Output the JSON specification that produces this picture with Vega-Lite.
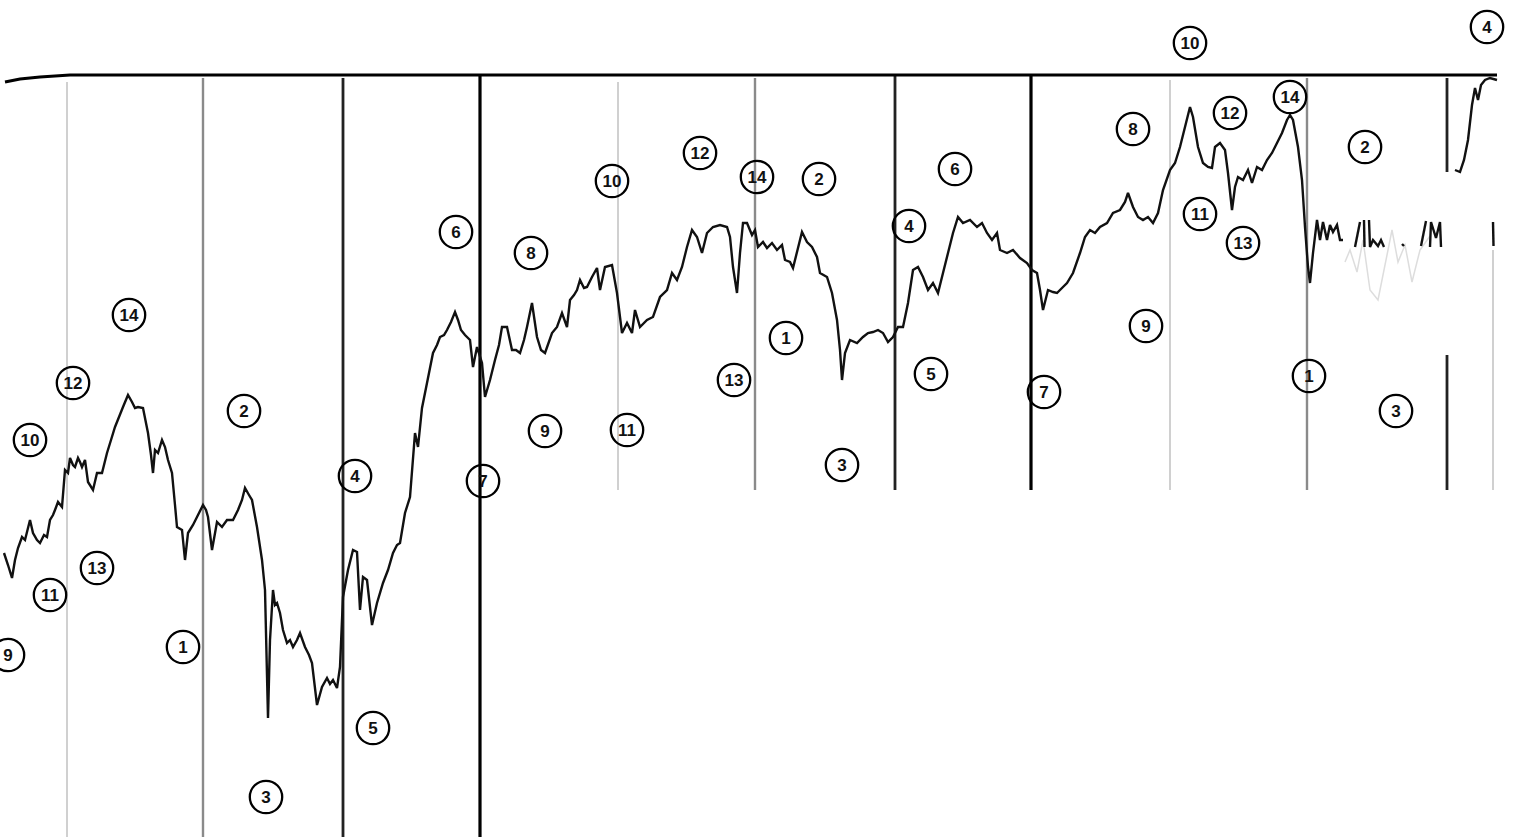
{
"$schema": "https://vega.github.io/schema/vega-lite/v6.json",
"width": 1524, "height": 837,
"autosize": {"type": "none"},
"padding": 0,
"background": "white",
"config": {"view": {"stroke": null}},
"datasets": {
"top": [{"x":5,"y":82},{"x":20,"y":79},{"x":40,"y":77},{"x":70,"y":75},{"x":1497,"y":75}],
"rules": [
{"x":67,"y":82,"y2":837,"kind":"faint"},
{"x":203,"y":78,"y2":837,"kind":"light"},
{"x":343,"y":78,"y2":837,"kind":"medium"},
{"x":480,"y":75,"y2":837,"kind":"heavy"},
{"x":618,"y":82,"y2":490,"kind":"faint"},
{"x":755,"y":78,"y2":490,"kind":"light"},
{"x":895,"y":75,"y2":490,"kind":"medium"},
{"x":1031,"y":75,"y2":490,"kind":"heavy"},
{"x":1170,"y":80,"y2":490,"kind":"faint"},
{"x":1307,"y":78,"y2":490,"kind":"light"},
{"x":1447,"y":78,"y2":172,"kind":"medium"},
{"x":1447,"y":355,"y2":490,"kind":"medium"},
{"x":1493,"y":250,"y2":490,"kind":"faint"}
],
"ghost": [{"x":1345,"y":262},{"x":1350,"y":250},{"x":1357,"y":272},{"x":1363,"y":240},{"x":1370,"y":290},{"x":1378,"y":300},{"x":1385,"y":265},{"x":1392,"y":230},{"x":1398,"y":262},{"x":1405,"y":245},{"x":1412,"y":282},{"x":1420,"y":250},{"x":1430,"y":236}],
"price": [
{"seg":1,"x":4,"y":553},{"seg":1,"x":8,"y":565},{"seg":1,"x":12,"y":578},{"seg":1,"x":15,"y":560},{"seg":1,"x":18,"y":548},{"seg":1,"x":22,"y":537},{"seg":1,"x":25,"y":540},{"seg":1,"x":28,"y":528},{"seg":1,"x":30,"y":520},{"seg":1,"x":33,"y":533},{"seg":1,"x":37,"y":540},{"seg":1,"x":40,"y":543},{"seg":1,"x":44,"y":535},{"seg":1,"x":47,"y":537},{"seg":1,"x":50,"y":520},{"seg":1,"x":53,"y":515},{"seg":1,"x":55,"y":510},{"seg":1,"x":58,"y":502},{"seg":1,"x":62,"y":507},{"seg":1,"x":65,"y":470},{"seg":1,"x":68,"y":473},{"seg":1,"x":70,"y":458},{"seg":1,"x":73,"y":465},{"seg":1,"x":75,"y":467},{"seg":1,"x":78,"y":458},{"seg":1,"x":80,"y":462},{"seg":1,"x":82,"y":467},{"seg":1,"x":85,"y":460},{"seg":1,"x":88,"y":482},{"seg":1,"x":93,"y":490},{"seg":1,"x":97,"y":473},{"seg":1,"x":102,"y":473},{"seg":1,"x":107,"y":453},{"seg":1,"x":111,"y":440},{"seg":1,"x":115,"y":427},{"seg":1,"x":119,"y":417},{"seg":1,"x":123,"y":407},{"seg":1,"x":128,"y":395},{"seg":1,"x":132,"y":402},{"seg":1,"x":135,"y":408},{"seg":1,"x":138,"y":407},{"seg":1,"x":143,"y":408},{"seg":1,"x":148,"y":433},{"seg":1,"x":151,"y":455},{"seg":1,"x":153,"y":473},{"seg":1,"x":155,"y":450},{"seg":1,"x":158,"y":453},{"seg":1,"x":162,"y":440},{"seg":1,"x":165,"y":447},{"seg":1,"x":168,"y":460},{"seg":1,"x":172,"y":473},{"seg":1,"x":175,"y":505},{"seg":1,"x":177,"y":527},{"seg":1,"x":182,"y":530},{"seg":1,"x":185,"y":560},{"seg":1,"x":188,"y":533},{"seg":1,"x":193,"y":525},{"seg":1,"x":197,"y":517},{"seg":1,"x":203,"y":505},{"seg":1,"x":206,"y":510},{"seg":1,"x":208,"y":517},{"seg":1,"x":212,"y":550},{"seg":1,"x":217,"y":522},{"seg":1,"x":222,"y":527},{"seg":1,"x":227,"y":520},{"seg":1,"x":233,"y":520},{"seg":1,"x":238,"y":510},{"seg":1,"x":242,"y":500},{"seg":1,"x":245,"y":488},{"seg":1,"x":249,"y":495},{"seg":1,"x":252,"y":500},{"seg":1,"x":257,"y":527},{"seg":1,"x":262,"y":560},{"seg":1,"x":265,"y":590},{"seg":1,"x":268,"y":718},{"seg":1,"x":270,"y":640},{"seg":1,"x":273,"y":590},{"seg":1,"x":275,"y":605},{"seg":1,"x":277,"y":603},{"seg":1,"x":280,"y":613},{"seg":1,"x":283,"y":630},{"seg":1,"x":287,"y":643},{"seg":1,"x":290,"y":640},{"seg":1,"x":293,"y":647},{"seg":1,"x":297,"y":640},{"seg":1,"x":300,"y":633},{"seg":1,"x":305,"y":647},{"seg":1,"x":309,"y":655},{"seg":1,"x":312,"y":663},{"seg":1,"x":317,"y":705},{"seg":1,"x":322,"y":687},{"seg":1,"x":327,"y":678},{"seg":1,"x":330,"y":684},{"seg":1,"x":333,"y":680},{"seg":1,"x":337,"y":688},{"seg":1,"x":340,"y":667},{"seg":1,"x":343,"y":597},{"seg":1,"x":348,"y":570},{"seg":1,"x":353,"y":550},{"seg":1,"x":357,"y":552},{"seg":1,"x":360,"y":610},{"seg":1,"x":363,"y":577},{"seg":1,"x":367,"y":580},{"seg":1,"x":372,"y":625},{"seg":1,"x":377,"y":603},{"seg":1,"x":383,"y":583},{"seg":1,"x":388,"y":570},{"seg":1,"x":393,"y":553},{"seg":1,"x":397,"y":545},{"seg":1,"x":400,"y":543},{"seg":1,"x":405,"y":513},{"seg":1,"x":410,"y":497},{"seg":1,"x":415,"y":433},{"seg":1,"x":418,"y":447},{"seg":1,"x":422,"y":408},{"seg":1,"x":427,"y":383},{"seg":1,"x":433,"y":353},{"seg":1,"x":437,"y":345},{"seg":1,"x":440,"y":337},{"seg":1,"x":444,"y":335},{"seg":1,"x":447,"y":330},{"seg":1,"x":451,"y":322},{"seg":1,"x":455,"y":312},{"seg":1,"x":458,"y":320},{"seg":1,"x":461,"y":330},{"seg":1,"x":465,"y":335},{"seg":1,"x":470,"y":340},{"seg":1,"x":473,"y":367},{"seg":1,"x":477,"y":347},{"seg":1,"x":482,"y":363},{"seg":1,"x":485,"y":397},{"seg":1,"x":490,"y":380},{"seg":1,"x":495,"y":360},{"seg":1,"x":499,"y":345},{"seg":1,"x":502,"y":327},{"seg":1,"x":507,"y":327},{"seg":1,"x":512,"y":350},{"seg":1,"x":516,"y":350},{"seg":1,"x":520,"y":353},{"seg":1,"x":524,"y":340},{"seg":1,"x":527,"y":327},{"seg":1,"x":532,"y":303},{"seg":1,"x":537,"y":337},{"seg":1,"x":541,"y":350},{"seg":1,"x":545,"y":353},{"seg":1,"x":552,"y":333},{"seg":1,"x":557,"y":327},{"seg":1,"x":562,"y":313},{"seg":1,"x":567,"y":327},{"seg":1,"x":570,"y":300},{"seg":1,"x":574,"y":295},{"seg":1,"x":577,"y":290},{"seg":1,"x":580,"y":280},{"seg":1,"x":584,"y":288},{"seg":1,"x":587,"y":287},{"seg":1,"x":592,"y":277},{"seg":1,"x":597,"y":268},{"seg":1,"x":600,"y":290},{"seg":1,"x":605,"y":267},{"seg":1,"x":612,"y":265},{"seg":1,"x":617,"y":293},{"seg":1,"x":622,"y":333},{"seg":1,"x":627,"y":323},{"seg":1,"x":632,"y":333},{"seg":1,"x":635,"y":310},{"seg":1,"x":640,"y":327},{"seg":1,"x":647,"y":320},{"seg":1,"x":653,"y":317},{"seg":1,"x":660,"y":297},{"seg":1,"x":667,"y":290},{"seg":1,"x":672,"y":273},{"seg":1,"x":677,"y":280},{"seg":1,"x":682,"y":267},{"seg":1,"x":687,"y":247},{"seg":1,"x":692,"y":230},{"seg":1,"x":697,"y":237},{"seg":1,"x":702,"y":253},{"seg":1,"x":707,"y":233},{"seg":1,"x":713,"y":227},{"seg":1,"x":720,"y":225},{"seg":1,"x":727,"y":227},{"seg":1,"x":730,"y":237},{"seg":1,"x":733,"y":267},{"seg":1,"x":737,"y":293},{"seg":1,"x":740,"y":253},{"seg":1,"x":743,"y":223},{"seg":1,"x":747,"y":223},{"seg":1,"x":752,"y":235},{"seg":1,"x":755,"y":230},{"seg":1,"x":758,"y":247},{"seg":1,"x":763,"y":242},{"seg":1,"x":767,"y":248},{"seg":1,"x":772,"y":243},{"seg":1,"x":777,"y":250},{"seg":1,"x":782,"y":245},{"seg":1,"x":785,"y":260},{"seg":1,"x":790,"y":262},{"seg":1,"x":793,"y":268},{"seg":1,"x":798,"y":248},{"seg":1,"x":802,"y":232},{"seg":1,"x":807,"y":242},{"seg":1,"x":812,"y":247},{"seg":1,"x":817,"y":257},{"seg":1,"x":820,"y":273},{"seg":1,"x":827,"y":277},{"seg":1,"x":832,"y":293},{"seg":1,"x":837,"y":320},{"seg":1,"x":840,"y":350},{"seg":1,"x":842,"y":380},{"seg":1,"x":845,"y":353},{"seg":1,"x":850,"y":340},{"seg":1,"x":857,"y":343},{"seg":1,"x":863,"y":337},{"seg":1,"x":868,"y":333},{"seg":1,"x":873,"y":332},{"seg":1,"x":878,"y":330},{"seg":1,"x":883,"y":333},{"seg":1,"x":888,"y":342},{"seg":1,"x":893,"y":337},{"seg":1,"x":898,"y":327},{"seg":1,"x":903,"y":327},{"seg":1,"x":908,"y":303},{"seg":1,"x":913,"y":270},{"seg":1,"x":918,"y":267},{"seg":1,"x":923,"y":277},{"seg":1,"x":928,"y":290},{"seg":1,"x":933,"y":283},{"seg":1,"x":938,"y":293},{"seg":1,"x":943,"y":273},{"seg":1,"x":948,"y":253},{"seg":1,"x":953,"y":233},{"seg":1,"x":958,"y":217},{"seg":1,"x":963,"y":223},{"seg":1,"x":970,"y":220},{"seg":1,"x":977,"y":227},{"seg":1,"x":982,"y":223},{"seg":1,"x":987,"y":233},{"seg":1,"x":992,"y":240},{"seg":1,"x":997,"y":233},{"seg":1,"x":1000,"y":250},{"seg":1,"x":1007,"y":253},{"seg":1,"x":1013,"y":250},{"seg":1,"x":1020,"y":258},{"seg":1,"x":1027,"y":263},{"seg":1,"x":1032,"y":270},{"seg":1,"x":1037,"y":273},{"seg":1,"x":1040,"y":290},{"seg":1,"x":1043,"y":310},{"seg":1,"x":1048,"y":290},{"seg":1,"x":1053,"y":292},{"seg":1,"x":1057,"y":293},{"seg":1,"x":1063,"y":287},{"seg":1,"x":1067,"y":283},{"seg":1,"x":1073,"y":273},{"seg":1,"x":1080,"y":253},{"seg":1,"x":1085,"y":237},{"seg":1,"x":1090,"y":230},{"seg":1,"x":1095,"y":233},{"seg":1,"x":1100,"y":227},{"seg":1,"x":1107,"y":223},{"seg":1,"x":1113,"y":213},{"seg":1,"x":1120,"y":210},{"seg":1,"x":1125,"y":202},{"seg":1,"x":1128,"y":193},{"seg":1,"x":1133,"y":207},{"seg":1,"x":1138,"y":217},{"seg":1,"x":1143,"y":220},{"seg":1,"x":1148,"y":217},{"seg":1,"x":1153,"y":223},{"seg":1,"x":1158,"y":213},{"seg":1,"x":1163,"y":190},{"seg":1,"x":1170,"y":170},{"seg":1,"x":1175,"y":163},{"seg":1,"x":1180,"y":147},{"seg":1,"x":1185,"y":127},{"seg":1,"x":1190,"y":107},{"seg":1,"x":1193,"y":117},{"seg":1,"x":1198,"y":147},{"seg":1,"x":1203,"y":163},{"seg":1,"x":1208,"y":167},{"seg":1,"x":1212,"y":168},{"seg":1,"x":1215,"y":147},{"seg":1,"x":1220,"y":143},{"seg":1,"x":1225,"y":150},{"seg":1,"x":1228,"y":173},{"seg":1,"x":1232,"y":210},{"seg":1,"x":1235,"y":187},{"seg":1,"x":1238,"y":177},{"seg":1,"x":1243,"y":180},{"seg":1,"x":1248,"y":170},{"seg":1,"x":1252,"y":183},{"seg":1,"x":1257,"y":167},{"seg":1,"x":1262,"y":170},{"seg":1,"x":1267,"y":160},{"seg":1,"x":1272,"y":153},{"seg":1,"x":1277,"y":143},{"seg":1,"x":1282,"y":133},{"seg":1,"x":1287,"y":120},{"seg":1,"x":1290,"y":115},{"seg":1,"x":1293,"y":120},{"seg":1,"x":1298,"y":147},{"seg":1,"x":1302,"y":180},{"seg":1,"x":1305,"y":227},{"seg":1,"x":1308,"y":267},{"seg":1,"x":1310,"y":283},{"seg":1,"x":1313,"y":253},{"seg":1,"x":1317,"y":220},{"seg":1,"x":1320,"y":240},{"seg":1,"x":1323,"y":222},{"seg":1,"x":1327,"y":240},{"seg":1,"x":1330,"y":225},{"seg":1,"x":1333,"y":232},{"seg":1,"x":1337,"y":225},{"seg":1,"x":1340,"y":240},{"seg":1,"x":1343,"y":240},
{"seg":2,"x":1355,"y":247},{"seg":2,"x":1360,"y":222},
{"seg":3,"x":1364,"y":220},{"seg":3,"x":1364.5,"y":247},
{"seg":4,"x":1369,"y":220},{"seg":4,"x":1370,"y":247},{"seg":4,"x":1373,"y":240},{"seg":4,"x":1378,"y":246},{"seg":4,"x":1381,"y":240},{"seg":4,"x":1384,"y":247},
{"seg":5,"x":1402,"y":244},{"seg":5,"x":1404,"y":246},
{"seg":6,"x":1421,"y":246},{"seg":6,"x":1426,"y":221},
{"seg":7,"x":1430,"y":247},{"seg":7,"x":1431,"y":222},{"seg":7,"x":1436,"y":238},{"seg":7,"x":1440,"y":222},{"seg":7,"x":1441,"y":247},
{"seg":8,"x":1493,"y":222},{"seg":8,"x":1493.5,"y":246},
{"seg":9,"x":1455,"y":170},{"seg":9,"x":1460,"y":172},{"seg":9,"x":1464,"y":160},{"seg":9,"x":1468,"y":140},{"seg":9,"x":1472,"y":105},{"seg":9,"x":1475,"y":88},{"seg":9,"x":1478,"y":100},{"seg":9,"x":1481,"y":85},{"seg":9,"x":1485,"y":80},{"seg":9,"x":1490,"y":78},{"seg":9,"x":1497,"y":80}
],
"labels": [
{"n":"9","x":8,"y":655},{"n":"10","x":30,"y":440},{"n":"11","x":50,"y":595},{"n":"12","x":73,"y":383},{"n":"13","x":97,"y":568},{"n":"14","x":129,"y":315},
{"n":"1","x":183,"y":647},{"n":"2","x":244,"y":411},{"n":"3","x":266,"y":797},{"n":"4","x":355,"y":476},{"n":"5","x":373,"y":728},{"n":"6","x":456,"y":232},{"n":"7","x":483,"y":481},
{"n":"8","x":531,"y":253},{"n":"9","x":545,"y":431},{"n":"10","x":612,"y":181},{"n":"11","x":627,"y":430},{"n":"12","x":700,"y":153},{"n":"13","x":734,"y":380},{"n":"14","x":757,"y":177},
{"n":"1","x":786,"y":338},{"n":"2","x":819,"y":179},{"n":"3","x":842,"y":465},{"n":"4","x":909,"y":226},{"n":"5","x":931,"y":374},{"n":"6","x":955,"y":169},{"n":"7","x":1044,"y":392},
{"n":"8","x":1133,"y":129},{"n":"9","x":1146,"y":326},{"n":"10","x":1190,"y":43},{"n":"11","x":1200,"y":214},{"n":"12","x":1230,"y":113},{"n":"13","x":1243,"y":243},{"n":"14","x":1290,"y":97},
{"n":"1","x":1309,"y":376},{"n":"2","x":1365,"y":147},{"n":"3","x":1396,"y":411},{"n":"4","x":1487,"y":27}
]
},
"encoding": {
"x": {"field":"x","type":"quantitative","scale":{"domain":[0,1524],"nice":false,"zero":false},"axis":null},
"y": {"field":"y","type":"quantitative","scale":{"domain":[0,837],"reverse":true,"nice":false,"zero":false},"axis":null}
},
"layer": [
{"data":{"name":"rules"},"mark":{"type":"rule"},
 "encoding":{"y2":{"field":"y2"},
  "color":{"field":"kind","type":"nominal","scale":{"domain":["heavy","medium","light","faint"],"range":["#000000","#222222","#8a8a8a","#d0d0d0"]},"legend":null},
  "strokeWidth":{"field":"kind","type":"nominal","scale":{"domain":["heavy","medium","light","faint"],"range":[3.2,2,1.6,1.3]},"legend":null}}},
{"data":{"name":"top"},"mark":{"type":"line","color":"#000000","strokeWidth":3.2},"encoding":{}},
{"data":{"name":"ghost"},"mark":{"type":"line","color":"#dddddd","strokeWidth":1.5},"encoding":{}},
{"data":{"name":"price"},"mark":{"type":"line","color":"#111111","strokeWidth":2.4,"strokeJoin":"miter","strokeMiterLimit":3},"encoding":{"detail":{"field":"seg","type":"nominal"}}},
{"data":{"name":"labels"},"mark":{"type":"point","shape":"circle","size":1050,"filled":false,"stroke":"#000000","strokeWidth":2.3,"opacity":1},"encoding":{}},
{"data":{"name":"labels"},"mark":{"type":"text","font":"Liberation Sans","fontWeight":"bold","fontSize":17,"align":"center","baseline":"middle","dy":1,"color":"#111111"},"encoding":{"text":{"field":"n","type":"nominal"}}}
]
}
